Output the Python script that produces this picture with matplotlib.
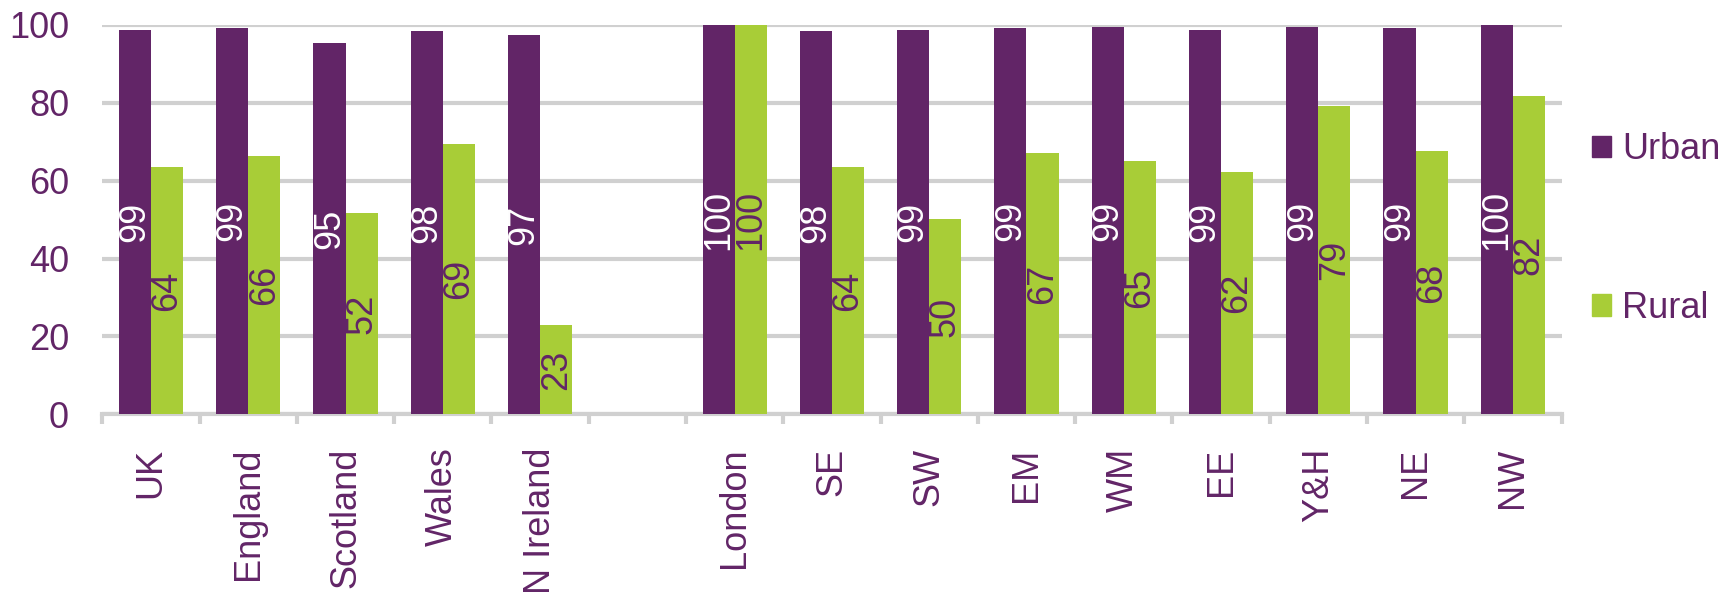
import matplotlib

matplotlib.use("Agg")
import matplotlib.pyplot as plt  # noqa: E402
import numpy as np  # noqa: E402

plt.rcParams["font.family"] = ["Liberation Sans", "DejaVu Sans"]

# --- Data (empty slot between N Ireland and London) ---
categories = ["UK", "England", "Scotland", "Wales", "N Ireland", "",
              "London", "SE", "SW", "EM", "WM", "EE", "Y&H", "NE", "NW"]
urban = [98.8, 99.3, 95.4, 98.4, 97.3, None,
         100, 98.3, 98.7, 99.2, 99.4, 98.8, 99.4, 99.3, 100]
rural = [63.5, 66.4, 51.8, 69.4, 22.9, None,
         100, 63.6, 50.1, 67.0, 65.0, 62.3, 79.1, 67.6, 81.8]

PURPLE = "#622567"
GREEN = "#a8cd37"
GRID = "#d0d0d0"

fig = plt.figure(figsize=(17.35, 5.92), dpi=100)
ax = fig.add_axes([0.059, 0.300, 0.841, 0.658])

x = np.arange(len(categories))
w = 0.33
for i, (u, r) in enumerate(zip(urban, rural)):
    if u is None:
        continue
    ax.bar(x[i] - w / 2, u, w, color=PURPLE, zorder=3)
    ax.bar(x[i] + w / 2, r, w, color=GREEN, zorder=3)
    ax.text(x[i] - w / 2, u / 2, f"{u:.0f}", rotation=90, ha="center", va="center",
            color="white", fontsize=26, zorder=4)
    ax.text(x[i] + w / 2, r / 2, f"{r:.0f}", rotation=90, ha="center", va="center",
            color=PURPLE, fontsize=26, zorder=4)

ax.set_xlim(-0.5, len(categories) - 0.5)
ax.set_ylim(0, 100)
ax.set_yticks(range(0, 101, 20))
ax.yaxis.grid(True, color=GRID, linewidth=3, zorder=0)
ax.tick_params(axis="y", length=0, labelsize=26, labelcolor=PURPLE, pad=24)

ax.set_xticks(x)
ax.set_xticklabels(categories, rotation=90, fontsize=26, color=PURPLE)
ax.set_xticks(np.arange(-0.5, len(categories)), minor=True)
ax.tick_params(axis="x", which="major", length=0, pad=24)
ax.tick_params(axis="x", which="minor", length=7, width=3, color=GRID, direction="out")

for s in ["top", "right", "left"]:
    ax.spines[s].set_visible(False)
ax.spines["bottom"].set_color(GRID)
ax.spines["bottom"].set_linewidth(3)

# --- Legend ---
h_u = plt.Rectangle((0, 0), 1, 1, color=PURPLE)
h_r = plt.Rectangle((0, 0), 1, 1, color=GREEN)
leg = fig.legend([h_u, h_r], ["Urban", "Rural"], loc="center left",
                 bbox_to_anchor=(0.9176, 0.613), frameon=False, fontsize=26,
                 borderpad=0, borderaxespad=0,
                 handlelength=0.53, handleheight=0.53, handletextpad=0.3,
                 labelspacing=3.42)
for t in leg.get_texts():
    t.set_color(PURPLE)

fig.savefig("out.png", dpi=100)
